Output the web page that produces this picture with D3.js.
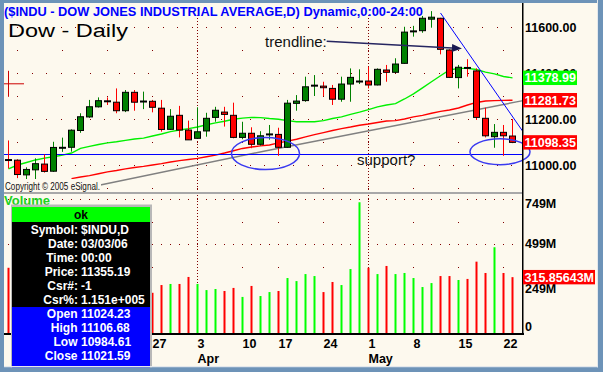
<!DOCTYPE html>
<html><head><meta charset="utf-8">
<script src="https://cdn.jsdelivr.net/npm/d3@7"></script>
<style>
html,body{margin:0;padding:0;background:#6d93b8;}
svg{display:block;font-family:"Liberation Sans",Arial,sans-serif;}
</style></head><body>
<svg id="c" width="603" height="372"></svg>
<script>
// ---------- DATA ----------
const dates = ["2006-03-03","2006-03-06","2006-03-07","2006-03-08","2006-03-09","2006-03-10",
"2006-03-13","2006-03-14","2006-03-15","2006-03-16","2006-03-17",
"2006-03-20","2006-03-21","2006-03-22","2006-03-23","2006-03-24",
"2006-03-27","2006-03-28","2006-03-29","2006-03-30","2006-03-31",
"2006-04-03","2006-04-04","2006-04-05","2006-04-06","2006-04-07",
"2006-04-10","2006-04-11","2006-04-12","2006-04-13",
"2006-04-17","2006-04-18","2006-04-19","2006-04-20","2006-04-21",
"2006-04-24","2006-04-25","2006-04-26","2006-04-27","2006-04-28",
"2006-05-01","2006-05-02","2006-05-03","2006-05-04","2006-05-05",
"2006-05-08","2006-05-09","2006-05-10","2006-05-11","2006-05-12",
"2006-05-15","2006-05-16","2006-05-17","2006-05-18","2006-05-19",
"2006-05-22","2006-05-23"];
const open  = [11024.23,11021,10957,10979,11004,10973,11073,11077,11150,11209,11253,11279,11273,11236,11316,11273,11277,11247,11155,11216,11152,11116,11148,11207,11230,11216,11120,11138,11090,11131,11133,11077,11268,11280,11342,11343,11333,11286,11352,11361,11365,11348,11413,11403,11442,11579,11584,11634,11638,11500,11380,11424,11409,11203,11123,11142,11126];
const high  = [11106.68,11025,10990,11029,11046,11101,11119,11155,11225,11283,11294,11294,11333,11326,11326,11319,11283,11283,11243,11257,11193,11251,11227,11253,11253,11271,11188,11164,11147,11174,11162,11283,11304,11384,11391,11362,11348,11384,11420,11416,11427,11420,11435,11464,11601,11605,11648,11669,11640,11503,11435,11460,11420,11249,11178,11174,11200];
const low   = [10984.61,10943,10935,10938,10967,10970,11057,11058,11140,11205,11250,11261,11225,11230,11236,11243,11229,11145,11152,11120,11109,11113,11123,11188,11167,11116,11112,11073,11084,11110,11040,11075,11236,11275,11300,11300,11261,11275,11275,11352,11333,11346,11362,11400,11440,11558,11575,11597,11481,11378,11333,11384,11196,11120,11075,11040,11095];
const close = [11021.59,10958.59,10980.69,11005.74,10972.28,11076.34,11074.76,11151.34,11209.77,11253.24,11279.65,11277,11236,11316,11273,11276,11250.89,11154.54,11212,11152,11109.32,11144.45,11203,11238,11220,11120,11138,11090,11127,11133,11077,11268.77,11278,11340,11345,11336,11286,11352,11381,11363,11348,11416,11403,11439,11577.74,11581,11638,11642.65,11503,11380.99,11425,11422,11207,11127,11142,11127,11098.35];
// volume in millions
const volume = [368,260,255,270,250,290,240,300,310,270,420,250,300,280,260,250,229,272,278,278,317,278,244,250,239,256,206,267,211,233,239,311,294,333,322,233,289,272,361,732,368,333,378,333,339,311,261,283,322,322,300,306,402,339,482,339,315.85643];
// moving averages
const maGreen = [10983,11000,11011,11022,11030,11036,11043,11052,11072,11081,11089,11096,11101,11107,11113,11117,11126,11135,11145,11152,11158,11165,11175,11183,11190,11199,11204,11207,11206,11202,11199,11193,11188,11188,11188,11193,11202,11209,11220,11230,11241,11253,11261,11267,11287,11309,11335,11362,11388,11413,11420,11420,11415,11404,11396,11385,11378.99];
const maRed = [null,null,null,null,null,null,null,10941,10948,10954,10962,10970,10976,10983,10989,10994,11000,11006,11013,11019,11024,11029,11036,11043,11052,11062,11072,11078,11083,11087,11096,11104,11112,11122,11132,11141,11150,11158,11165,11173,11178,11185,11191,11193,11200,11209,11216,11225,11233,11239,11248,11261,11272,11278,11280,11281,11281.73];
// drawn lines: [bar index, price]
const grayLine = [[10.2,10913],[28.5,11061],[57.2,11280]];
const blueTrend = [[48,11661],[57.2,11143]];
const supportLevel = 11045.7;
const priceTicks = [11000,11200,11400,11600];
const priceGrid = [10900,11000,11100,11200,11300,11400,11500,11600];
const volTicks = [0,249,499,749];
const volGrid = [374,499,624,749];
// ellipses: [index from, index to, price low, price high]
const ellipses = [[24.83,32.39,10980.4,11119.6],[51.33,58,11001.3,11113.9]];
// annotation texts: [text, index, price]
const notes = [["trendline:",28.56,11515.2],["support?",38.78,11001.3]];
const arrowPts = [[35.41,11538.3],[50.44,11506.5]];
const cursor = {index:0, price:11355.19};
const dwLabels = ["Symbol:","Date:","Time:","Price:","Csr#:","Csr%:","Open","High","Low","Close"];
const dwValues = ["$INDU,D","03/03/06","00:00","11355.19","-1","1.151e+005",
  d3.format(".2f")(open[0]),d3.format(".2f")(high[0]),d3.format(".2f")(low[0]),d3.format(".2f")(close[0])];

// ---------- LAYOUT ----------
const W=603,H=372;
const plotL=4, plotR=523, pTop=3, pBot=192, vTop=194, vBot=334;
const dwRight=152;
const cream="#fdf9ee", frame="#6d93b8", gridC="#800000";
const UP="#008000", DN="#ff0000", VUP="#00ff00", VDN="#ff0000";

const svg=d3.select("#c");
svg.append("rect").attr("width",W).attr("height",H).attr("fill",frame);
svg.append("rect").attr("x",4).attr("y",3).attr("width",593).attr("height",364).attr("fill",cream);

const x=d3.scaleLinear().domain([0,dates.length-1]).range([8,512]);
const y=d3.scaleLinear().domain([11000,11600]).range([165,27]);
const yv=d3.scaleLinear().domain([0,749]).range([vBot,199.2]);
const cx=i=>x(i)+0.5;

const defs=svg.append("defs");
defs.append("clipPath").attr("id","pclip").append("rect").attr("x",plotL).attr("y",pTop).attr("width",plotR-plotL).attr("height",pBot-pTop);

const parse=d3.timeParse("%Y-%m-%d");
const dd=dates.map(parse);
const weekStarts=d3.range(1,dd.length).filter(i=>dd[i].getDay()<dd[i-1].getDay());
const monthStarts=d3.range(1,dd.length).filter(i=>dd[i].getMonth()!==dd[i-1].getMonth());

// ---------- GRID ----------
const dots=[];
const denseX=d3.range(17.3,plotR-1,14.53);
priceGrid.forEach(l=>{
  const yy=Math.round(y(l));
  const xs=((l-11000)%200===0)?denseX:weekStarts.map(x);
  xs.forEach(xx=>dots.push([Math.round(xx),yy]));
});
volGrid.forEach(v=>{
  const yy=Math.round(yv(v));
  const xs=(v===749||v===499)?d3.range(dates.length).map(x):weekStarts.map(x);
  xs.forEach(xx=>dots.push([Math.round(xx),yy]));
});
svg.append("g").selectAll("rect").data(dots).join("rect")
  .attr("x",d=>d[0]).attr("y",d=>d[1]).attr("width",1).attr("height",1).attr("fill",gridC);
svg.append("g").selectAll("line").data(monthStarts).join("line")
  .attr("x1",i=>cx(i)).attr("x2",i=>cx(i)).attr("y1",15).attr("y2",vBot)
  .attr("stroke",gridC).attr("stroke-width",1).attr("stroke-dasharray","1,2");

// panel separator
svg.append("rect").attr("x",plotL).attr("y",pBot).attr("width",plotR-plotL).attr("height",2).attr("fill","#a8a8a8");

// ---------- PRICE PANEL ----------
const pg=svg.append("g").attr("clip-path","url(#pclip)");
const lineGen=d3.line().defined(d=>d[1]!=null).x(d=>cx(d[0])).y(d=>y(d[1]));
pg.append("path").attr("d",lineGen(maRed.map((v,i)=>[i,v]))).attr("fill","none").attr("stroke","#ff0000").attr("stroke-width",1.4);
pg.append("path").attr("d",lineGen(grayLine)).attr("fill","none").attr("stroke","#808080").attr("stroke-width",1.4);
pg.append("path").attr("d",lineGen(maGreen.map((v,i)=>[i,v]))).attr("fill","none").attr("stroke","#00f000").attr("stroke-width",1.4);
pg.append("line").attr("x1",plotL).attr("x2",plotR).attr("y1",y(supportLevel)).attr("y2",y(supportLevel))
  .attr("stroke","#0000ff").attr("stroke-width",1.2);

// copyright (opaque background)
svg.append("rect").attr("x",4).attr("y",179).attr("width",97).attr("height",12).attr("fill",cream);
svg.append("text").attr("x",5).attr("y",189.5).attr("font-size",10).attr("fill","#111")
  .attr("textLength",95).attr("lengthAdjust","spacingAndGlyphs").text("Copyright \u00a9 2005 eSignal.");

// candles
const cg=pg.append("g");
const idx=d3.range(dates.length);
cg.selectAll("line.w").data(idx).join("line").attr("class","w")
  .attr("x1",cx).attr("x2",cx).attr("y1",i=>y(high[i])).attr("y2",i=>y(low[i]))
  .attr("stroke",i=>close[i]>=open[i]?UP:DN).attr("stroke-width",1);
cg.selectAll("rect.b").data(idx).join("rect").attr("class","b")
  .each(function(i){
    const s=d3.select(this);
    const yo=y(open[i]), yc=y(close[i]);
    if(Math.abs(yo-yc)<1.5){
      s.attr("x",cx(i)-3.5).attr("width",7).attr("y",yc-1).attr("height",2).attr("fill","#000");
    } else {
      s.attr("x",cx(i)-3).attr("width",6).attr("y",Math.min(yo,yc)).attr("height",Math.abs(yo-yc))
       .attr("fill",close[i]>=open[i]?UP:DN).attr("stroke","#000").attr("stroke-width",1);
    }
  });

// blue trendline
pg.append("path").attr("d",lineGen(blueTrend)).attr("fill","none").attr("stroke","#0000ff").attr("stroke-width",1);

// ellipses
svg.append("g").selectAll("ellipse").data(ellipses).join("ellipse")
  .attr("cx",d=>(x(d[0])+x(d[1]))/2).attr("cy",d=>(y(d[2])+y(d[3]))/2)
  .attr("rx",d=>(x(d[1])-x(d[0]))/2).attr("ry",d=>(y(d[2])-y(d[3]))/2)
  .attr("fill","none").attr("stroke","#3a3af0").attr("stroke-width",1.5);

// notes
svg.append("g").selectAll("text").data(notes).join("text")
  .attr("x",d=>x(d[1])).attr("y",d=>y(d[2])).attr("font-size",15).attr("fill","#111")
  .text(d=>d[0]);

// arrow
{
  const [a,b]=arrowPts;
  const ax=x(a[0]),ay=y(a[1]),bx=x(b[0]),by=y(b[1]);
  const ang=Math.atan2(by-ay,bx-ax), L=10, hw=4;
  const baseX=bx-L*Math.cos(ang), baseY=by-L*Math.sin(ang);
  svg.append("line").attr("x1",ax).attr("y1",ay).attr("x2",baseX).attr("y2",baseY)
    .attr("stroke","#252560").attr("stroke-width",1.5);
  const p=[[bx,by],[baseX-hw*Math.sin(ang),baseY+hw*Math.cos(ang)],[baseX+hw*Math.sin(ang),baseY-hw*Math.cos(ang)]];
  svg.append("path").attr("d","M"+p.map(q=>q.join(",")).join("L")+"Z").attr("fill","#1a1a50");
}

// cursor crosshair
{
  const px=cx(cursor.index), py=y(cursor.price)+0.5;
  pg.append("line").attr("x1",px).attr("x2",px).attr("y1",py-13).attr("y2",py+13).attr("stroke","#cc0000");
  pg.append("line").attr("x1",px-15).attr("x2",px+15.5).attr("y1",py).attr("y2",py).attr("stroke","#cc0000");
}

// titles
svg.append("text").attr("x",4).attr("y",15.5).attr("font-size",13).attr("font-weight","bold").attr("fill","#0000ff")
  .attr("textLength",419).attr("lengthAdjust","spacingAndGlyphs")
  .text("($INDU - DOW JONES INDUSTRIAL AVERAGE,D) Dynamic,0:00-24:00");
svg.append("text").attr("x",8).attr("y",37).attr("font-size",18).attr("fill","#000")
  .attr("textLength",120).attr("lengthAdjust","spacingAndGlyphs").text("Dow - Daily");

// ---------- VOLUME PANEL ----------
svg.append("g").selectAll("rect").data(idx).join("rect")
  .attr("x",i=>x(i)-0.5).attr("width",2).attr("y",i=>yv(volume[i])).attr("height",i=>vBot-yv(volume[i]))
  .attr("fill",i=>close[i]>=open[i]?VUP:VDN);
svg.append("text").attr("x",4).attr("y",205).attr("font-size",13).attr("font-weight","bold").attr("fill","#20d020").text("Volume");

// axes lines
svg.append("rect").attr("x",plotL).attr("y",vBot-1).attr("width",plotR-plotL+1).attr("height",2).attr("fill","#000");
svg.append("rect").attr("x",plotR-1).attr("y",pTop).attr("width",1.5).attr("height",vBot-pTop).attr("fill","#000");

// price axis labels
const pAxis=svg.append("g").attr("transform",`translate(${plotR},0)`)
  .call(d3.axisRight(y).tickValues(priceTicks).tickSize(0).tickPadding(2).tickFormat(d3.format(".2f")));
pAxis.select(".domain").remove();
pAxis.selectAll("text").attr("font-size",12.5).attr("font-weight","bold").attr("fill","#000")
  .attr("font-family","Liberation Sans, Arial, sans-serif");

// volume axis labels (clamped within panel)
const vAxis=svg.append("g").attr("transform",`translate(${plotR},0)`)
  .call(d3.axisRight(yv).tickValues(volTicks).tickSize(0).tickPadding(2).tickFormat(d=>d===0?"0":d+"M"));
vAxis.select(".domain").remove();
vAxis.selectAll(".tick").attr("transform",d=>`translate(0,${Math.min(Math.max(yv(d),vTop+10),vBot-7.5)})`);
vAxis.selectAll("text").attr("font-size",12.5).attr("font-weight","bold").attr("fill","#000")
  .attr("font-family","Liberation Sans, Arial, sans-serif");

// value tags
const tags=[
  {v:maGreen[maGreen.length-1], s:y, bg:"#00ff00", w:54, f:d3.format(".2f")},
  {v:maRed[maRed.length-1], s:y, bg:"#ff0000", w:54, f:d3.format(".2f")},
  {v:close[close.length-1], s:y, bg:"#ff0000", w:54, f:d3.format(".2f")},
  {v:volume[volume.length-1], s:yv, bg:"#ff0000", w:72, f:d=>d3.format(".5f")(d)+"M"}
];
const tg=svg.append("g").selectAll("g").data(tags).join("g").attr("transform",d=>`translate(${plotR},${d.s(d.v)})`);
tg.append("rect").attr("x",0).attr("y",-7.2).attr("width",d=>d.w).attr("height",14.4).attr("fill",d=>d.bg);
tg.append("text").attr("x",1.5).attr("dy","0.36em").attr("font-size",12.5).attr("font-weight","bold").attr("fill","#fff").text(d=>d.f(d.v));

// x-axis labels (those under the data window are not visible, so skipped)
const visWeeks=weekStarts.filter(i=>x(i)>=dwRight);
svg.append("g").selectAll("text").data(visWeeks).join("text")
  .attr("x",i=>x(i)+0.5).attr("y",347.5).attr("font-size",12.5).attr("font-weight","bold").attr("fill","#000")
  .text(i=>dd[i].getDate());
svg.append("g").selectAll("text").data(monthStarts).join("text")
  .attr("x",i=>x(i)+0.5).attr("y",363).attr("font-size",12.5).attr("font-weight","bold").attr("fill","#000")
  .text(i=>d3.timeFormat("%b")(dd[i]));

// ---------- DATA WINDOW ----------
const dw=svg.append("g");
dw.append("rect").attr("x",11).attr("y",204.5).attr("width",dwRight-11).attr("height",170).attr("fill","#b8b8b8");
dw.append("rect").attr("x",12).attr("y",207).attr("width",138).attr("height",15).attr("fill","#00ff00");
dw.append("rect").attr("x",12).attr("y",222).attr("width",138).attr("height",85).attr("fill","#000");
dw.append("rect").attr("x",12).attr("y",307).attr("width",138).attr("height",70).attr("fill","#0000ff");
dw.append("text").attr("x",81).attr("y",219).attr("text-anchor","middle").attr("font-size",12).attr("font-weight","bold").attr("fill","#000").text("ok");
dw.selectAll("text.l").data(dwLabels).join("text").attr("class","l")
  .attr("x",(d,i)=>i<6?78:77.5).attr("y",(d,i)=>233.5+14*i).attr("text-anchor","end")
  .attr("font-size",12).attr("font-weight","bold").attr("fill","#fff").text(d=>d);
dw.selectAll("text.v").data(dwValues).join("text").attr("class","v")
  .attr("x",81).attr("y",(d,i)=>233.5+14*i)
  .attr("font-size",12).attr("font-weight","bold").attr("fill","#fff").text(d=>d);

// ---------- FRAME ----------
svg.append("rect").attr("x",0).attr("y",0).attr("width",4).attr("height",H).attr("fill",frame);
svg.append("rect").attr("x",0).attr("y",0).attr("width",W).attr("height",3).attr("fill",frame);
svg.append("rect").attr("x",597).attr("y",0).attr("width",1).attr("height",368).attr("fill","#e4e8ec");
svg.append("rect").attr("x",598).attr("y",0).attr("width",5).attr("height",H).attr("fill",frame);
svg.append("rect").attr("x",4).attr("y",366).attr("width",594).attr("height",1.5).attr("fill","#e4e8ec");
svg.append("rect").attr("x",0).attr("y",367.5).attr("width",W).attr("height",4.5).attr("fill",frame);
</script>
</body></html>
